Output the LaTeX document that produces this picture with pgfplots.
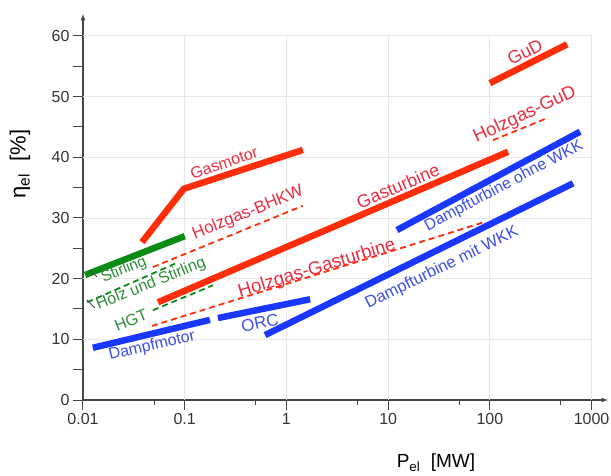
\documentclass[border=0pt]{standalone}
\usepackage{fontspec}
\setmainfont{Liberation Sans}
\usepackage{pgfplots}
\pgfplotsset{compat=1.18}
\definecolor{redline}{RGB}{255,45,10}
\definecolor{redtext}{RGB}{235,45,65}
\definecolor{blueline}{RGB}{25,55,255}
\definecolor{bluetext}{RGB}{60,80,230}
\definecolor{greenline}{RGB}{10,140,20}
\definecolor{greentext}{RGB}{45,140,55}
\definecolor{axcol}{RGB}{70,70,70}
\definecolor{gridcol}{RGB}{232,232,232}
\begin{document}
\begin{tikzpicture}
\begin{axis}[
  at={(0,0)}, anchor=south west,
  scale only axis, width=525bp, height=386bp,
  xmode=log, xmin=0.01, xmax=1450, ymin=0, ymax=63.6,
  axis lines=left,
  axis line style={-latex, line width=1.2bp, color=axcol},
  xtick={0.01,0.1,1,10,100,1000},
  xticklabels={0.01,0.1,1,10,100,1000},
  xminorticks=false,
  extra x ticks={0.05,0.5,5,50,500},
  extra x tick labels={},
  extra x tick style={major tick length=5bp},
  ytick={0,10,20,30,40,50,60},
  yticklabels={0,10,20,30,40,50,60},
  minor ytick={5,15,25,35,45,55},
  tick align=outside,
  major tick length=10bp, minor tick length=10bp,
  tick style={color=axcol, line width=1bp},
  minor tick style={color=axcol, line width=1bp},
  ticklabel style={font=\fontsize{16bp}{18bp}\selectfont, color=black!80},
  /pgf/number format/assume math mode=true,
  clip=false,
]
% light grid
\addplot[gridcol, line width=0.8bp, forget plot] coordinates {(0.01,10) (1000,10)};
\addplot[gridcol, line width=0.8bp, forget plot] coordinates {(0.01,20) (1000,20)};
\addplot[gridcol, line width=0.8bp, forget plot] coordinates {(0.01,30) (1000,30)};
\addplot[gridcol, line width=0.8bp, forget plot] coordinates {(0.01,40) (1000,40)};
\addplot[gridcol, line width=0.8bp, forget plot] coordinates {(0.01,50) (1000,50)};
\addplot[gridcol, line width=0.8bp, forget plot] coordinates {(0.01,60) (1000,60)};
\addplot[gridcol, line width=0.8bp, forget plot] coordinates {(0.1,0) (0.1,60)};
\addplot[gridcol, line width=0.8bp, forget plot] coordinates {(1,0) (1,60)};
\addplot[gridcol, line width=0.8bp, forget plot] coordinates {(10,0) (10,60)};
\addplot[gridcol, line width=0.8bp, forget plot] coordinates {(100,0) (100,60)};
\addplot[gridcol, line width=0.8bp, forget plot] coordinates {(1000,0) (1000,60)};
% dashed (Holzgas) lines
\addplot[redline, line width=1.8bp, dash pattern=on 6bp off 4bp] coordinates {(0.0487,21.9) (1.45,32.0)}; % Holzgas-BHKW
\addplot[redline, line width=1.8bp, dash pattern=on 6bp off 4bp] coordinates {(0.0476,12.2) (84,29.2)}; % Holzgas-Gasturbine
\addplot[redline, line width=1.8bp, dash pattern=on 6bp off 4bp] coordinates {(107,42.8) (372,46.5)}; % Holzgas-GuD
\addplot[greenline, line width=1.8bp, dash pattern=on 6bp off 4bp] coordinates {(0.011,16.1) (0.084,22.6)}; % Holz und Stirling
\addplot[greenline, line width=1.8bp, dash pattern=on 6bp off 4bp] coordinates {(0.0487,14.8) (0.19,18.9)}; % HGT
% thick lines
\addplot[greenline, line width=6.5bp] coordinates {(0.0105,20.6) (0.1,27.0)}; % Stirling
\addplot[redline, line width=6.5bp] coordinates {(0.038,26.0) (0.098,34.8) (1.45,41.2)}; % Gasmotor
\addplot[redline, line width=6.5bp] coordinates {(0.0546,16.1) (151,40.9)}; % Gasturbine
\addplot[redline, line width=6.5bp] coordinates {(100,52.2) (574,58.6)}; % GuD
\addplot[blueline, line width=6.5bp] coordinates {(0.0125,8.6) (0.177,13.2)}; % Dampfmotor
\addplot[blueline, line width=6.5bp] coordinates {(0.212,13.5) (1.71,16.6)}; % ORC
\addplot[blueline, line width=6.5bp] coordinates {(0.617,10.7) (658,35.7)}; % Dampfturbine mit WKK
\addplot[blueline, line width=6.5bp] coordinates {(12.2,28.0) (771,44.2)}; % Dampfturbine ohne WKK
\end{axis}
% axis labels
\node[font=\fontsize{22bp}{24bp}\selectfont, rotate=90] at (-63bp,236bp) {η\textsubscript{el}\ \ [\%]};
\node[font=\fontsize{19bp}{22bp}\selectfont] at (353bp,-63bp) {P\textsubscript{el}\ \ [MW]};
% series labels
\begin{scope}[every node/.style={inner sep=0pt}]
\node[redtext, rotate=19, font=\fontsize{16bp}{18bp}\selectfont] at (141bp,237bp) {Gasmotor};
\node[redtext, rotate=22, font=\fontsize{17bp}{19bp}\selectfont] at (165bp,187bp) {Holzgas-BHKW};
\node[greentext, rotate=22, font=\fontsize{15.5bp}{18bp}\selectfont] at (41bp,130bp) {Stirling};
\node[greentext, rotate=22, font=\fontsize{16bp}{18bp}\selectfont] at (68bp,116bp) {Holz und Stirling};
\node[greentext, rotate=22, font=\fontsize{16bp}{18bp}\selectfont] at (48bp,80bp) {HGT};
\node[redtext, rotate=23, font=\fontsize{18bp}{20bp}\selectfont] at (315bp,214bp) {Gasturbine};
\node[redtext, rotate=17, font=\fontsize{18.5bp}{20bp}\selectfont] at (234bp,131bp) {Holzgas-Gasturbine};
\node[bluetext, rotate=13, font=\fontsize{16bp}{18bp}\selectfont] at (69bp,54bp) {Dampfmotor};
\node[bluetext, rotate=12, font=\fontsize{17bp}{19bp}\selectfont] at (177bp,77bp) {ORC};
\node[bluetext, rotate=26, font=\fontsize{16.5bp}{18bp}\selectfont] at (359bp,132bp) {Dampfturbine mit WKK};
\node[bluetext, rotate=28, font=\fontsize{16bp}{18bp}\selectfont] at (421bp,214bp) {Dampfturbine ohne WKK};
\node[redtext, rotate=25, font=\fontsize{18.5bp}{20bp}\selectfont] at (442bp,285bp) {Holzgas-GuD};
\node[redtext, rotate=27, font=\fontsize{18bp}{20bp}\selectfont] at (442bp,348bp) {GuD};
\end{scope}
\draw[black!70, line width=0.8bp] (7bp,130bp) -- (14bp,123bp);
\draw[black!70, line width=0.8bp] (4bp,100bp) -- (12bp,92bp);
\pgfresetboundingbox
\path (-83bp,-76bp) rectangle (528bp,400bp);
\end{tikzpicture}
\end{document}
